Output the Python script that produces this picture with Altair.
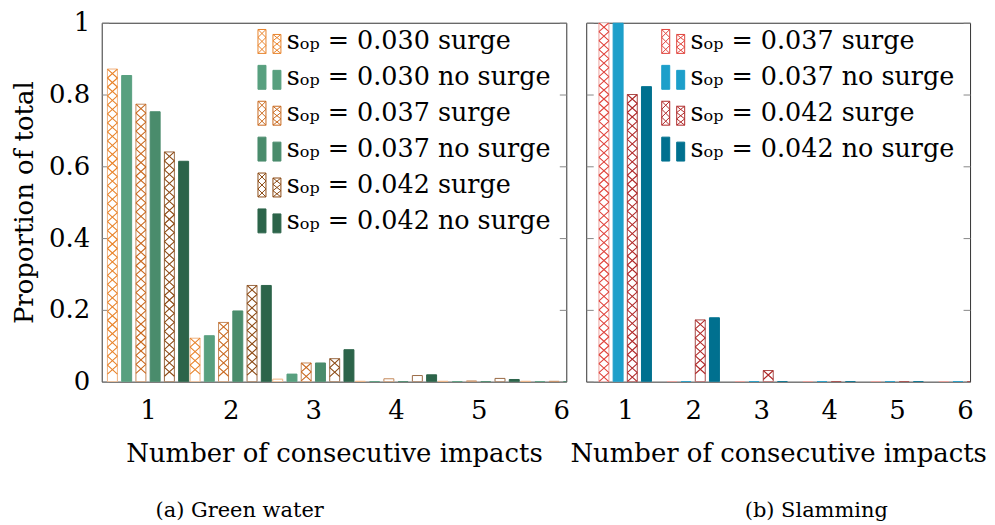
import altair as alt
import pandas as pd

# ---------------- data ----------------
impacts = [1, 2, 3, 4, 5, 6]

# (a) Green water
gw_labels = [
    "sₒₚ = 0.030 surge",
    "sₒₚ = 0.030 no surge",
    "sₒₚ = 0.037 surge",
    "sₒₚ = 0.037 no surge",
    "sₒₚ = 0.042 surge",
    "sₒₚ = 0.042 no surge",
]
gw_surge = [True, False, True, False, True, False]
gw_030_surge = [0.871, 0.121, 0.007, 0.001, 0.001, 0.001]
gw_030_nosurge = [0.853, 0.128, 0.021, 0.0, 0.0, 0.0]
gw_037_surge = [0.773, 0.165, 0.052, 0.008, 0.002, 0.001]
gw_037_nosurge = [0.752, 0.197, 0.052, 0.0, 0.0, 0.0]
gw_042_surge = [0.640, 0.268, 0.064, 0.017, 0.009, 0.0]
gw_042_nosurge = [0.614, 0.268, 0.089, 0.019, 0.006, 0.0]
gw_values = [gw_030_surge, gw_030_nosurge, gw_037_surge,
             gw_037_nosurge, gw_042_surge, gw_042_nosurge]

# (b) Slamming
sl_labels = [
    "sₒₚ = 0.037 surge",
    "sₒₚ = 0.037 no surge",
    "sₒₚ = 0.042 surge",
    "sₒₚ = 0.042 no surge",
]
sl_surge = [True, False, True, False]
sl_037_surge = [1.0, 0.0, 0.0, 0.0, 0.0, 0.0]
sl_037_nosurge = [1.0, 0.0, 0.0, 0.0, 0.0, 0.0]
sl_042_surge = [0.800, 0.172, 0.031, 0.0, 0.0, 0.0]
sl_042_nosurge = [0.822, 0.178, 0.0, 0.0, 0.0, 0.0]
sl_values = [sl_037_surge, sl_037_nosurge, sl_042_surge, sl_042_nosurge]

y_ticks = [0, 0.2, 0.4, 0.6, 0.8, 1.0]


def long_table(labels, surge, values):
    rows = []
    for i, (lab, s, vals) in enumerate(zip(labels, surge, values)):
        for n, v in zip(impacts, vals):
            rows.append({"impacts": n, "series": lab, "idx": i,
                         "surge": s, "value": v})
    return pd.DataFrame(rows)


# ---------------- styles ----------------
FONT = "DejaVu Serif"
FS = 26
PLOT_H = 360
BAR_PX = 10
STEP_PX = 14.6
HATCH_PX = 9.0


def legend_path(hatch):
    bars = [(-1.0, -1.0, -0.333, 1.0), (0.25, -0.583, 0.917, 1.0)]
    parts = []
    for x0, y0, x1, y1 in bars:
        parts.append(f"M{x0},{y0}H{x1}V{y1}H{x0}Z")
    if hatch:
        for x0, y0, x1, y1 in bars:
            n = 3
            h = (y1 - y0) / n
            for k in range(n):
                ya = y0 + k * h
                yb = ya + h
                parts.append(f"M{x0},{ya:.3f}L{x1},{yb:.3f}M{x0},{yb:.3f}L{x1},{ya:.3f}")
    return "".join(parts)


X_PATH = "M-1,-0.9L1,0.9M-1,0.9L1,-0.9"


def panel(labels, surge, values, solid, hatch, edge, width, legend_x,
          show_y_labels, caption, caption_dx):
    df = long_table(labels, surge, values)
    n = len(labels)
    px_per_unit = width / 5.5
    step_u = STEP_PX / px_per_unit
    hatch_u = HATCH_PX / PLOT_H

    fill_rng = ["white" if s else c for s, c in zip(surge, solid)]
    stroke_rng = [e if s else c for s, e, c in zip(surge, edge, solid)]
    hatch_rng = [h if s else c for s, h, c in zip(surge, hatch, solid)]
    leg_shape = [legend_path(s) for s in surge]

    xs = alt.Scale(domain=[0.5, 6], nice=False, zero=False)
    ys = alt.Scale(domain=[0, 1], nice=False, zero=False)

    base = alt.Chart(df).transform_calculate(
        xc=f"datum.impacts + (datum.idx - {(n - 1) / 2}) * {step_u}"
    )

    x_axis = alt.Axis(values=impacts, format="d", title="Number of consecutive impacts",
                      domain=False, ticks=False, grid=False, labelFlush=False,
                      labelFont=FONT, titleFont=FONT,
                      labelFontSize=FS, titleFontSize=FS, labelPadding=16,
                      titlePadding=17, labelColor="black", titleColor="black",
                      titleFontWeight="normal")
    if show_y_labels:
        yl_axis = alt.Axis(orient="left", values=y_ticks, format=".1~f",
                           title="Proportion of total", domain=False, grid=False,
                           offset=-7, tickSize=7, tickColor="#888",
                           labelFont=FONT, titleFont=FONT,
                           labelPadding=12, labelFontSize=FS, titleFontSize=FS,
                           titlePadding=11, labelColor="black", titleColor="black",
                           titleFontWeight="normal")
    else:
        yl_axis = alt.Axis(orient="left", values=y_ticks, labels=False, title=None,
                           domain=False, grid=False, offset=-7, tickSize=7,
                           tickColor="#888")
    yr_axis = alt.Axis(orient="right", values=y_ticks, labels=False, title=None,
                       domain=False, grid=False, offset=-7, tickSize=7,
                       tickColor="#888")

    bars = base.mark_bar(size=BAR_PX, orient="vertical", clip=True,
                         strokeWidth=1).encode(
        x=alt.X("xc:Q", scale=xs, axis=x_axis),
        y=alt.Y("value:Q", scale=ys, axis=yl_axis, stack=None),
        fill=alt.Fill("series:N", scale=alt.Scale(domain=labels, range=fill_rng),
                      legend=None),
        stroke=alt.Stroke("series:N", scale=alt.Scale(domain=labels, range=stroke_rng),
                          legend=None),
    )

    hatch_layer = base.transform_filter("datum.surge").transform_calculate(
        ys=f"sequence(datum.value - {hatch_u / 2}, {hatch_u / 2 - 1e-6}, {-hatch_u})"
    ).transform_flatten(["ys"]).mark_point(
        shape=X_PATH, size=BAR_PX * BAR_PX, filled=False, strokeWidth=1.1,
        clip=True, opacity=1
    ).encode(
        x=alt.X("xc:Q", scale=xs, axis=x_axis),
        y=alt.Y("ys:Q", scale=ys, axis=yr_axis),
        stroke=alt.Stroke("series:N", scale=alt.Scale(domain=labels, range=hatch_rng),
                          legend=None),
    )

    leg = alt.Legend(orient="none", legendX=legend_x, legendY=6, title=None,
                     labelFont=FONT, labelFontSize=25.5, labelColor="black",
                     symbolSize=576, symbolStrokeWidth=1, symbolOpacity=1,
                     labelOffset=4, rowPadding=7, padding=0, labelLimit=400)
    legend_layer = base.transform_filter("datum.value > 5").mark_point(
        filled=True, size=576, strokeWidth=1, opacity=1
    ).encode(
        x=alt.X("xc:Q", scale=xs, axis=x_axis),
        y=alt.Y("value:Q", scale=ys, axis=None),
        fill=alt.Fill("series:N", scale=alt.Scale(domain=labels, range=fill_rng),
                      legend=leg),
        stroke=alt.Stroke("series:N", scale=alt.Scale(domain=labels, range=hatch_rng),
                          legend=leg),
        shape=alt.Shape("series:N", scale=alt.Scale(domain=labels, range=leg_shape),
                        legend=leg),
    )

    return alt.layer(bars, hatch_layer, legend_layer).resolve_scale(
        y="independent", fill="independent", stroke="independent",
        shape="independent"
    ).properties(
        width=width, height=PLOT_H,
        title=alt.TitleParams(caption, orient="bottom", anchor="start",
                              frame="group", dx=caption_dx, offset=34,
                              fontSize=21, font=FONT, fontWeight="normal",
                              color="black"),
    )


left = panel(
    gw_labels, gw_surge, gw_values,
    solid=["#58a07f", "#58a07f", "#4a8c6c", "#4a8c6c", "#2c644a", "#2c644a"],
    hatch=["#e8832a", "#e8832a", "#c9691f", "#c9691f", "#8c4a14", "#8c4a14"],
    edge=["#f0b27e", "#f0b27e", "#c58a5a", "#c58a5a", "#9a6a45", "#9a6a45"],
    width=466, legend_x=156, show_y_labels=True,
    caption="(a) Green water", caption_dx=54,
)

right = panel(
    sl_labels, sl_surge, sl_values,
    solid=["#1d9fca", "#1d9fca", "#00708f", "#00708f"],
    hatch=["#e0453e", "#e0453e", "#b02a2a", "#b02a2a"],
    edge=["#eda09c", "#eda09c", "#a84a48", "#a84a48"],
    width=385, legend_x=75, show_y_labels=False,
    caption="(b) Slamming", caption_dx=159,
)

chart = alt.hconcat(left, right, spacing=20, bounds="flush").resolve_scale(
    fill="independent", stroke="independent", shape="independent"
).properties(
    padding={"left": 3, "top": 0, "right": 0, "bottom": 0}
).configure(
    font=FONT
).configure_legend(
    labelFont=FONT
).configure_view(
    stroke="#333", strokeWidth=1
)

chart.save("out.html", embed_options={"renderer": "svg", "actions": False})
